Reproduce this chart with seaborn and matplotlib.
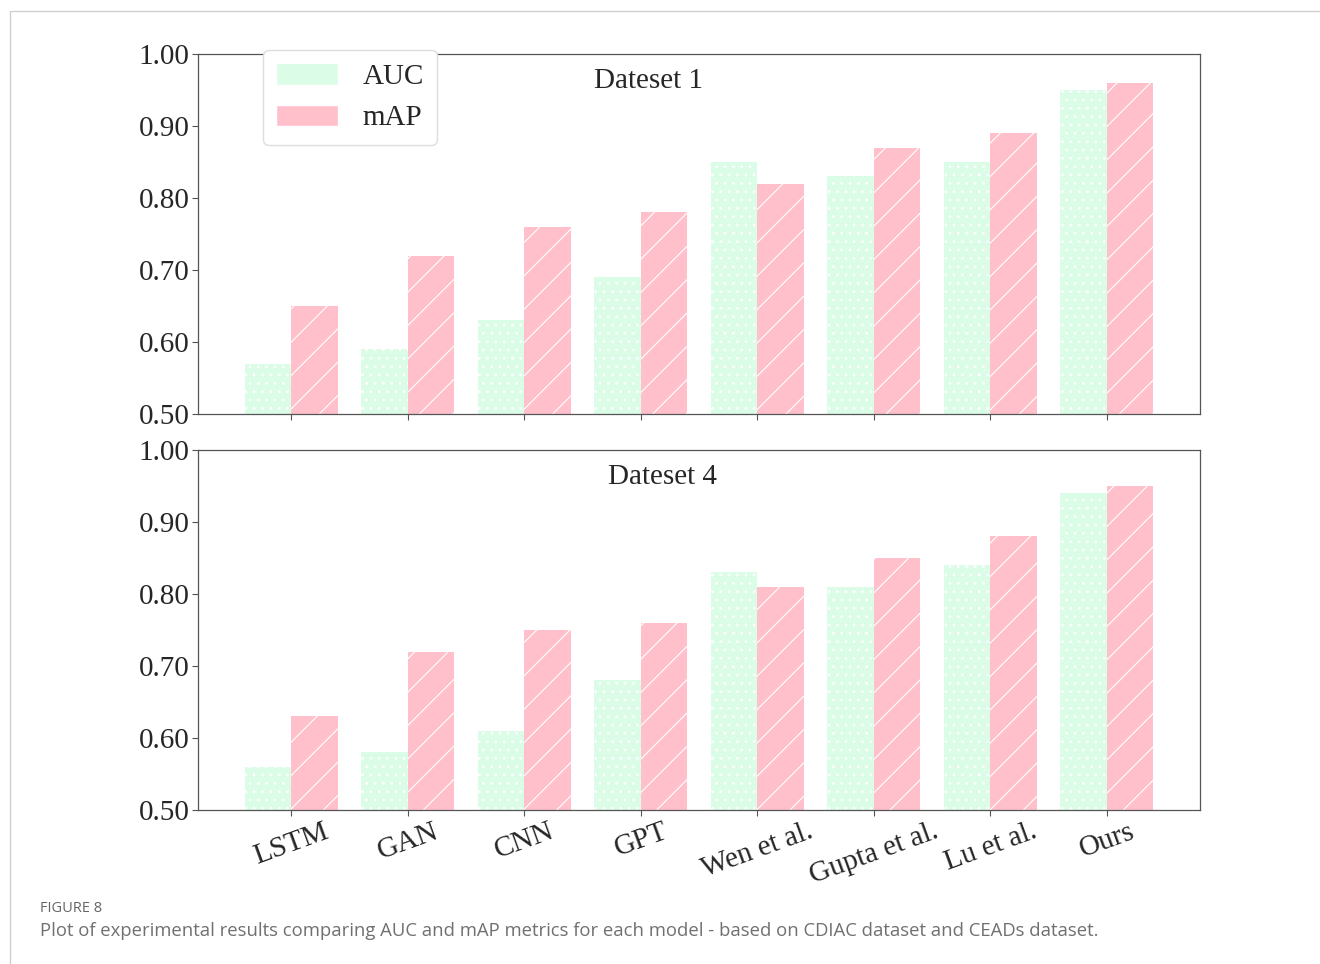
import matplotlib
matplotlib.use("Agg")
import matplotlib.pyplot as plt
from matplotlib.patches import Rectangle
import seaborn as sns
import pandas as pd

models = ["LSTM", "GAN", "CNN", "GPT", "Wen et al.", "Gupta et al.", "Lu et al.", "Ours"]
metrics = ["AUC", "mAP"]

ds1_auc = [0.57, 0.59, 0.63, 0.69, 0.85, 0.83, 0.85, 0.95]
ds1_map = [0.65, 0.72, 0.76, 0.78, 0.82, 0.87, 0.89, 0.96]
ds4_auc = [0.56, 0.58, 0.61, 0.68, 0.83, 0.81, 0.84, 0.94]
ds4_map = [0.63, 0.72, 0.75, 0.76, 0.81, 0.85, 0.88, 0.95]

panel_titles = ["Dateset 1", "Dateset 4"]
yticks = [0.50, 0.60, 0.70, 0.80, 0.90, 1.00]

caption_head = "FIGURE 8"
caption_body = ("Plot of experimental results comparing AUC and mAP metrics for each model - "
                "based on CDIAC dataset and CEADs dataset.")

colors = {"AUC": "#dbfce6", "mAP": "#ffc0cb"}
hatches = {"AUC": "..", "mAP": "/"}

sns.set_style("white")
plt.rcParams["font.family"] = ["Liberation Serif", "DejaVu Serif"]
plt.rcParams["hatch.linewidth"] = 0.8

FS = 21


def long_frame(auc, mapv):
    return pd.DataFrame({
        "model": models * 2,
        "metric": ["AUC"] * len(models) + ["mAP"] * len(models),
        "value": auc + mapv,
    })


fig = plt.figure(figsize=(13.2, 9.64), dpi=100)

# page frame around the figure
fig.add_artist(Rectangle((10 / 1320, -0.1), 1.2, (964 - 11) / 964 + 0.1,
                         transform=fig.transFigure, fill=False,
                         edgecolor="#cfcfcf", linewidth=1.0))

ax_top = fig.add_axes([198 / 1320, 550 / 964, 1002 / 1320, 360 / 964])
ax_bot = fig.add_axes([198 / 1320, 154 / 964, 1002 / 1320, 360 / 964])

panels = [
    (ax_top, long_frame(ds1_auc, ds1_map), panel_titles[0], 649),
    (ax_bot, long_frame(ds4_auc, ds4_map), panel_titles[1], 662),
]

for ax, df, title, title_px in panels:
    sns.barplot(data=df, x="model", y="value", hue="metric", hue_order=metrics,
                order=models, palette=colors, width=0.8, ax=ax,
                saturation=1, errorbar=None)
    for cont, met in zip(ax.containers, metrics):
        for bar in cont:
            bar.set_hatch(hatches[met])
            bar.set_edgecolor("white")
            bar.set_linewidth(0)
    ax.set_ylim(0.5, 1.0)
    ax.set_xlim(-0.8, 7.8)
    ax.set_yticks(yticks)
    ax.set_yticklabels([f"{v:.2f}" for v in yticks], fontsize=FS)
    ax.set_xlabel("")
    ax.set_ylabel("")
    ax.tick_params(axis="both", which="both", direction="out", length=4,
                   width=0.8, color="#555555", bottom=True, left=True, pad=2)
    for sp in ax.spines.values():
        sp.set_color("#555555")
        sp.set_linewidth(0.9)
    ax.text((title_px - 198) / 1002, 0.926, title, transform=ax.transAxes,
            ha="center", va="center", fontsize=FS)

ax_top.set_xticklabels([])
ax_bot.set_xticks(range(len(models)))
ax_bot.set_xticklabels(models, rotation=20, ha="center", fontsize=FS)
ax_bot.get_legend().remove()

leg = ax_top.get_legend()
handles = leg.legend_handles
leg.remove()
ax_top.legend(handles, metrics, loc="upper left", bbox_to_anchor=(0.065, 1.011),
              borderaxespad=0, fontsize=FS, frameon=True, handlelength=2.1,
              handleheight=0.75, labelspacing=0.5, handletextpad=0.85,
              borderpad=0.45, edgecolor="#dddddd", framealpha=1, fancybox=True)

fig.text(40 / 1320, 1 - 908 / 964, caption_head, fontsize=10.5, color="#666666",
         family=["Open Sans", "DejaVu Sans"], va="center", ha="left")
fig.text(40 / 1320, 1 - 931 / 964, caption_body, fontsize=13.3, color="#707070",
         family=["Open Sans", "DejaVu Sans"], va="center", ha="left")

fig.savefig("out.png", dpi=100)
